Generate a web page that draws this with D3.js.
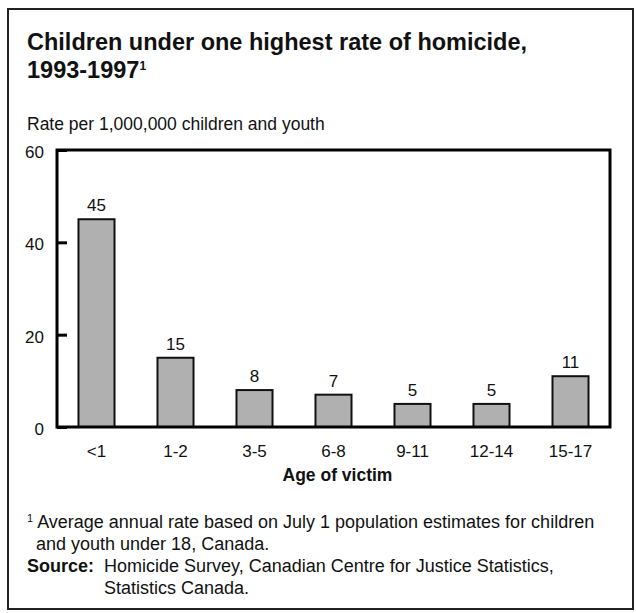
<!DOCTYPE html>
<html>
<head>
<meta charset="utf-8">
<script src="https://cdn.jsdelivr.net/npm/d3@7"></script>
<style>
  html, body { margin: 0; padding: 0; background: #fff; }
  svg { display: block; }
  text { font-family: "Liberation Sans", Arial, Helvetica, sans-serif; fill: #111; }
</style>
</head>
<body>
<script>
// Homicide rate of children and youth by age group, Canada 1993-1997
const ageGroups = ["<1", "1-2", "3-5", "6-8", "9-11", "12-14", "15-17"];
const rates = [45, 15, 8, 7, 5, 5, 11];
const yTicks = [0, 20, 40, 60];

const W = 636, H = 613;
const svg = d3.select("body").append("svg").attr("width", W).attr("height", H);

// outer frame
svg.append("rect")
  .attr("x", 8).attr("y", 9).attr("width", 625).attr("height", 600)
  .attr("fill", "none").attr("stroke", "#222").attr("stroke-width", 2);

// title
const title = svg.append("text").attr("x", 27).attr("y", 50)
  .style("font-size", "23.5px").style("font-weight", "bold");
title.append("tspan").text("Children under one highest rate of homicide,");
const t2 = svg.append("text").attr("x", 27).attr("y", 78)
  .style("font-size", "23.5px").style("font-weight", "bold");
t2.append("tspan").text("1993-1997");
t2.append("tspan").attr("dy", -8).style("font-size", "12px").text("1");

svg.append("text").attr("x", 27).attr("y", 130)
  .style("font-size", "17.5px").text("Rate per 1,000,000 children and youth");

// plot area
const plotL = 57, plotR = 610, plotT = 150, plotB = 427;
const x = d3.scaleBand().domain(ageGroups).range([plotL, plotR])
  .paddingInner(0.544).paddingOuter(0.272);
const y = d3.scaleLinear().domain([0, 60]).range([plotB, plotT]);

// bars
svg.append("g").selectAll("rect").data(rates).join("rect")
  .attr("x", (d, i) => x(ageGroups[i]))
  .attr("y", d => y(d))
  .attr("width", x.bandwidth())
  .attr("height", d => y(0) - y(d))
  .attr("fill", "#b0b0b0").attr("stroke", "#111").attr("stroke-width", 2);

// value labels
svg.append("g").selectAll("text").data(rates).join("text")
  .attr("x", (d, i) => x(ageGroups[i]) + x.bandwidth() / 2)
  .attr("y", d => y(d) - 8)
  .attr("text-anchor", "middle").style("font-size", "17px")
  .text(d => d);

// plot frame
svg.append("rect")
  .attr("x", plotL).attr("y", plotT).attr("width", plotR - plotL).attr("height", plotB - plotT)
  .attr("fill", "none").attr("stroke", "#000").attr("stroke-width", 3);

// y axis: inward ticks and labels
const yAxis = d3.axisLeft(y).tickValues(yTicks).tickSize(-10).tickPadding(13).tickFormat(d3.format("d"));
const gy = svg.append("g").attr("transform", `translate(${plotL},0)`).call(yAxis);
gy.select(".domain").remove();
gy.selectAll(".tick line").attr("stroke", "#000").attr("stroke-width", 3);
gy.selectAll(".tick text").style("font-size", "17px").attr("fill", "#111")
  .attr("font-family", null).attr("dy", "0.45em");

// x axis labels
const xAxis = d3.axisBottom(x).tickSize(0).tickPadding(18);
const gx = svg.append("g").attr("transform", `translate(0,${plotB})`).call(xAxis);
gx.select(".domain").remove();
gx.selectAll(".tick text").style("font-size", "17px").attr("fill", "#111").attr("font-family", null);

svg.append("text").attr("x", (plotL + plotR) / 2 + 4).attr("y", 481)
  .attr("text-anchor", "middle").style("font-size", "17.5px").style("font-weight", "bold")
  .text("Age of victim");

// footnotes
const fn = svg.append("g").style("font-size", "18px");
const f1 = fn.append("text").attr("x", 27).attr("y", 528);
f1.append("tspan").attr("dy", -6).style("font-size", "11px").text("1");
f1.append("tspan").attr("dy", 6).text(" Average annual rate based on July 1 population estimates for children");
fn.append("text").attr("x", 36).attr("y", 550).text("and youth under 18, Canada.");
const s = fn.append("text").attr("x", 27).attr("y", 572);
s.append("tspan").style("font-weight", "bold").text("Source:");
fn.append("text").attr("x", 104).attr("y", 572).text("Homicide Survey, Canadian Centre for Justice Statistics,");
fn.append("text").attr("x", 104).attr("y", 594).text("Statistics Canada.");
</script>
</body>
</html>
